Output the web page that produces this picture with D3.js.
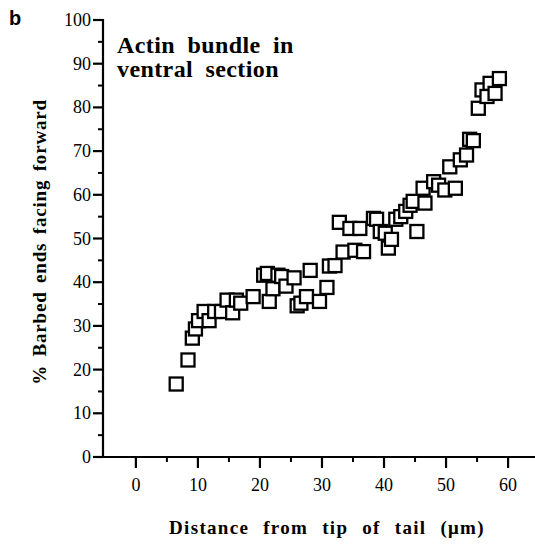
<!DOCTYPE html>
<html>
    <head>
        <meta charset="UTF-8"/>
        <style>
            body { margin: 0; background: #fff; }
        </style>
    </head>
    <body>
        <svg width="535" height="544"></svg>
        <script src="https://d3js.org/d3.v7.min.js" type="text/javascript"></script>
        <script>
            // distance from tip of tail (um)
            let distance = [6.5, 8.4, 9.1, 9.6, 10.1, 11.0, 11.8, 12.7, 13.8, 14.7,
                15.6, 16.2, 16.9, 18.9, 20.6, 21.2, 21.5, 22.1, 22.9, 23.5,
                24.2, 25.5, 26.0, 26.6, 27.5, 28.1, 29.6, 30.8, 31.2, 32.1,
                32.8, 33.4, 34.5, 35.3, 36.1, 36.7, 38.3, 38.8, 39.4, 40.2,
                40.7, 41.2, 41.9, 42.7, 43.5, 44.2, 44.7, 45.3, 46.3, 46.6,
                48.0, 48.8, 49.8, 51.5, 50.6, 52.3, 53.3, 53.8, 54.4, 55.2,
                55.8, 56.6, 57.1, 57.9, 58.6];
            // % barbed ends facing forward
            let percent = [16.7, 22.2, 27.2, 29.3, 31.2, 33.3, 31.2, 33.3, 33.3, 35.9,
                33.0, 35.9, 35.2, 36.7, 41.6, 42.0, 35.6, 38.5, 41.6, 41.3,
                39.1, 41.0, 34.6, 35.2, 36.7, 42.7, 35.6, 38.8, 43.7, 43.8,
                53.7, 46.9, 52.3, 47.3, 52.3, 47.0, 54.6, 54.4, 51.6, 51.2,
                47.8, 49.8, 54.4, 55.0, 56.2, 57.6, 58.5, 51.6, 61.5, 58.1,
                63.0, 62.2, 61.1, 61.5, 66.4, 68.0, 69.1, 72.7, 72.4, 79.8,
                84.0, 82.5, 85.5, 83.2, 86.6];
            let xTicks = [0, 10, 20, 30, 40, 50, 60];
            let yTicks = [0, 10, 20, 30, 40, 50, 60, 70, 80, 90, 100];

            let serif = "Liberation Serif";
            let svg = d3.select("svg");
            let x = d3.scaleLinear().domain([-5.3, 64.5]).range([103, 536]);
            let y = d3.scaleLinear().domain([0, 100]).range([457, 20]);

            // x axis
            let xAxis = svg.append("g").attr("transform", "translate(0," + y(0) + ")");
            xAxis.append("line")
                .attr("x1", x(-5.3)).attr("x2", x(64.5))
                .attr("stroke", "#000").attr("stroke-width", 2.2);
            xAxis.selectAll(".maj").data(xTicks).enter().append("line")
                .attr("x1", d => x(d)).attr("x2", d => x(d))
                .attr("y1", 0).attr("y2", 11)
                .attr("stroke", "#000").attr("stroke-width", 2.2);
            xAxis.selectAll(".min").data(d3.range(5, 60, 10)).enter().append("line")
                .attr("x1", d => x(d)).attr("x2", d => x(d))
                .attr("y1", 0).attr("y2", 5)
                .attr("stroke", "#000").attr("stroke-width", 2);
            xAxis.selectAll("text").data(xTicks).enter().append("text")
                .attr("x", d => x(d)).attr("y", 34)
                .attr("text-anchor", "middle")
                .attr("font-family", serif).attr("font-size", 18)
                .text(d => d);

            // y axis
            let yAxis = svg.append("g").attr("transform", "translate(" + x(-5.3) + ",0)");
            yAxis.append("line")
                .attr("y1", y(0) + 1).attr("y2", y(100) - 1)
                .attr("stroke", "#000").attr("stroke-width", 2.2);
            yAxis.selectAll(".maj").data(yTicks).enter().append("line")
                .attr("y1", d => y(d)).attr("y2", d => y(d))
                .attr("x1", -10).attr("x2", 0)
                .attr("stroke", "#000").attr("stroke-width", 2.2);
            yAxis.selectAll(".min").data(d3.range(5, 100, 10)).enter().append("line")
                .attr("y1", d => y(d)).attr("y2", d => y(d))
                .attr("x1", -5).attr("x2", 0)
                .attr("stroke", "#000").attr("stroke-width", 2);
            yAxis.selectAll("text").data(yTicks).enter().append("text")
                .attr("x", -12).attr("y", d => y(d) + 6)
                .attr("text-anchor", "end")
                .attr("font-family", serif).attr("font-size", 18)
                .text(d => d);

            // points
            let pts = distance.map((d, i) => ({x: d, y: percent[i]}));
            let s = 13;
            svg.append("g").selectAll("rect").data(pts).enter().append("rect")
                .attr("x", d => x(d.x) - s / 2)
                .attr("y", d => y(d.y) - s / 2)
                .attr("width", s).attr("height", s)
                .attr("fill", "#fff")
                .attr("stroke", "#000")
                .attr("stroke-width", 2.3);

            // labels
            svg.append("text")
                .attr("x", 9).attr("y", 25)
                .attr("font-family", "Liberation Sans")
                .attr("font-weight", "bold").attr("font-size", 20)
                .text("b");
            let note = svg.append("text")
                .attr("font-family", serif)
                .attr("font-weight", "bold").attr("font-size", 24)
                .attr("word-spacing", 6).attr("letter-spacing", 0.4);
            note.append("tspan").attr("x", 117).attr("y", 53).text("Actin bundle in");
            note.append("tspan").attr("x", 117).attr("y", 77).text("ventral section");

            svg.append("text")
                .attr("x", 327).attr("y", 534)
                .attr("text-anchor", "middle")
                .attr("font-family", serif)
                .attr("font-weight", "bold").attr("font-size", 19)
                .attr("word-spacing", 8).attr("letter-spacing", 1.3)
                .text("Distance from tip of tail (\u03bcm)");
            svg.append("text")
                .attr("transform", "translate(46,242) rotate(-90)")
                .attr("text-anchor", "middle")
                .attr("font-family", serif)
                .attr("font-weight", "bold").attr("font-size", 19)
                .attr("word-spacing", 3).attr("letter-spacing", 0.8)
                .text("% Barbed ends facing forward");
        </script>
    </body>
</html>
